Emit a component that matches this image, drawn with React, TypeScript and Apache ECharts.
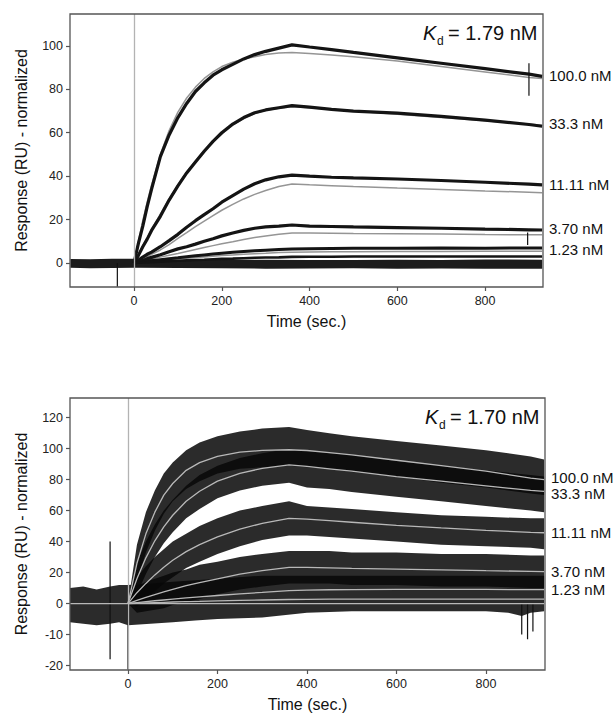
import React, { useEffect, useRef } from "react";
import * as echarts from "echarts";

// ---------- shared labels ----------
const concLabels = ["100.0 nM", "33.3 nM", "11.11 nM", "3.70 nM", "1.23 nM"];
const kdValues = ["1.79", "1.70"];
const xTickValues = [0, 200, 400, 600, 800];
const topYTickValues = [0, 20, 40, 60, 80, 100];
const bottomYTickValues = [-40, -20, 0, 20, 40, 60, 80, 100, 120];
const bottomYTickLabels = ["-20", "-10", "0", "20", "40", "60", "80", "100", "120"];

// ---------- top panel ----------
const topTimes = [0, 10, 20, 30, 40, 60, 80, 100, 120, 140, 160, 180, 200, 225, 250, 275, 300, 330, 360, 400, 450, 500, 600, 700, 800, 900, 930];
const top100Data = [0, 9, 17, 26, 34, 49, 59, 67, 73.5, 79, 83, 86.5, 89, 91.5, 94, 96, 97.5, 99, 100.5, 99.5, 98.3, 97, 94.5, 92, 89.5, 87, 86];
const top100Fit = [0, 10, 19.5, 28, 36, 50, 61, 69.5, 76, 81, 85, 88, 90.5, 92.5, 94, 95, 96, 96.7, 97, 96.5, 95.8, 95, 93, 90.5, 88, 85.5, 85];
const top33Data = [0, 3.5, 7.5, 11, 15, 21.5, 29, 35.5, 41.5, 46.5, 51.5, 56, 60, 64, 67, 69.2, 70.5, 71.5, 72.5, 71.8, 70.8, 70, 69, 67.5, 65.8, 63.8, 63];
const top33Fit = [0, 4, 8, 11.5, 15.5, 22.5, 29.5, 36, 42, 47, 52, 56, 59.5, 63.5, 66.5, 68.8, 70.3, 71.3, 72, 71.5, 70.8, 70, 68.5, 67, 65.5, 64, 63.5];
const top11Data = [0, 1.3, 2.7, 4, 5, 7.5, 10.3, 13.2, 16.5, 19.5, 22.3, 25, 28, 31, 34, 36.5, 38.3, 39.7, 40.5, 40, 39.5, 39.2, 38.7, 38, 37.2, 36.3, 36];
const top11Fit = [0, 1, 2, 3, 4, 6, 8.5, 11.3, 14, 16.8, 19.3, 21.8, 24.3, 27, 29.5, 31.6, 33.4, 35.2, 36.4, 36, 35.6, 35.2, 34.5, 33.9, 33.2, 32.6, 32.4];
const top3Data = [0, 0.5, 1.2, 2, 2.6, 3.8, 5.2, 6.5, 7.5, 8.7, 10, 11.2, 12.5, 13.8, 15, 16, 16.6, 17, 17.5, 17, 16.8, 16.6, 16.3, 16, 15.6, 15.3, 15.2];
const top3Fit = [0, 0.4, 0.9, 1.3, 1.8, 2.7, 3.6, 4.4, 5.3, 6.2, 7.1, 8, 8.9, 9.8, 10.8, 11.7, 12.4, 13.2, 13.8, 13.8, 13.7, 13.6, 13.5, 13.3, 13.1, 13, 13];
const top1Data = [0, 0.3, 0.5, 0.8, 1, 1.5, 2, 2.4, 2.9, 3.3, 3.7, 4.1, 4.5, 4.9, 5.3, 5.6, 5.9, 6.2, 6.5, 6.6, 6.7, 6.8, 6.8, 6.9, 6.8, 6.9, 6.9];
const top1Fit = [0, 0.2, 0.4, 0.6, 0.8, 1.1, 1.5, 1.8, 2.2, 2.5, 2.8, 3.1, 3.4, 3.7, 4, 4.3, 4.5, 4.8, 5, 5.1, 5.2, 5.2, 5.3, 5.3, 5.4, 5.4, 5.4];
const top04Data = [0, 0.1, 0.2, 0.3, 0.4, 0.6, 0.8, 1, 1.2, 1.4, 1.5, 1.7, 1.9, 2, 2.2, 2.4, 2.5, 2.6, 2.8, 2.9, 2.9, 3, 3, 3, 3, 3, 3];
const topBaseTimes = [-145, -100, -50, 0, 100, 200, 300, 400, 500, 600, 700, 800, 930];
const topBaseLow = [-2.2, -2.4, -2.3, -2.2, -2.3, -2.4, -2.6, -2.5, -2.4, -2.6, -2.5, -2.7, -2.6];
const topBaseHigh = [1.8, 1.7, 1.9, 1.9, 1.4, 1.5, 1.5, 1.4, 1.4, 1.5, 1.4, 1.6, 1.5];
// spikes: [time, from, to]
const topSpikes = [[-38, -11, 0], [900, 77, 92], [897, 8.3, 14]];

// ---------- bottom panel ----------
const bottomTimes = [0, 20, 40, 60, 80, 100, 130, 160, 200, 250, 300, 360, 400, 450, 500, 600, 700, 800, 900, 930];
const b100Fit = [0, 26, 45, 59, 70, 77.5, 86, 91, 95, 97.7, 98.9, 99.3, 98.8, 97.5, 96, 92.5, 89, 85.5, 81, 80];
const b100Low = [0, 14, 33, 47, 58, 66, 74, 79, 84, 87, 88, 89, 88, 87, 85, 82, 78, 75, 71, 70];
const b100High = [0, 38, 59, 73, 84, 91, 99, 104, 108, 111, 113, 114, 112, 110, 108, 105, 102, 99, 95, 93];
const b33Fit = [0, 16, 29.5, 40.5, 49.5, 57, 66, 72.5, 79, 84, 87.3, 89.5, 88.5, 87, 85.5, 82, 79, 76, 73, 72.4];
const b33Low = [0, 6, 19, 30, 39, 46, 55, 61, 68, 73, 76, 78, 75, 74, 72, 69, 66, 63, 60, 59];
const b33High = [0, 26, 40, 51, 60, 67, 76, 83, 89, 94, 97, 100, 99, 97, 96, 92, 89, 86, 83, 82];
const b11Fit = [0, 7, 13, 18.5, 23.5, 28, 33.5, 38, 43, 48, 51.8, 55, 54.5, 53.5, 52.5, 50.5, 48.8, 47.2, 46, 45.7];
const b11Low = [0, -2, 3, 8, 13, 17, 23, 27, 32, 37, 41, 44, 44, 43, 42, 40, 38, 37, 36, 35];
const b11High = [0, 17, 24, 30, 35, 40, 45, 50, 55, 60, 63, 66, 63, 62, 61, 59, 57, 56, 55, 55];
const b3Fit = [0, 2, 4, 5.8, 7.5, 9.2, 11.5, 13.5, 16, 19, 21.3, 23.3, 23.3, 23, 22.7, 22.2, 21.7, 21.2, 20.8, 20.6];
const b3Low = [0, -6, -5, -4, -3, -1, 1, 3, 6, 9, 11, 13, 13, 13, 12, 12, 11, 11, 10, 10];
const b3High = [0, 11, 14, 16, 18, 20, 22, 25, 27, 30, 32, 34, 34, 34, 33, 33, 32, 32, 31, 31];
const b1Fit = [0, 0.6, 1.2, 1.8, 2.3, 2.8, 3.6, 4.3, 5.2, 6.3, 7.2, 8.4, 8.7, 8.9, 9, 9.1, 9.1, 9.1, 9, 9];
const b04Fit = [0, 0.2, 0.4, 0.6, 0.8, 1, 1.2, 1.4, 1.7, 2, 2.3, 2.6, 2.7, 2.8, 2.8, 2.8, 2.8, 2.8, 2.8, 2.8];
const bZeroTimes = [-130, 930];
const bZeroFit = [0, 0];
const bClusterTimes = [-130, -100, -70, -40, -20, 0, 50, 100, 150, 200, 300, 400, 500, 600, 700, 800, 850, 880, 900, 930];
const bClusterLow = [-12, -13, -14, -13, -12, -14, -13, -12, -11, -10, -9, -6, -5, -5, -5, -5, -6, -8, -6, -5];
const bClusterHigh = [10, 11, 9, 11, 12, 12, 13, 14, 15, 16, 18, 18, 18, 18, 18, 18, 18, 18, 18, 18];
const bottomSpikes = [[-40, -36, 40], [0, -42.5, 0], [880, -20, 0], [893, -23, 0], [905, -18, 0]];

const FONT = "'Liberation Sans', Arial, Helvetica, sans-serif";

const zip = (t: number[], v: number[]) => t.map((x, i) => [x, v[i]]);

function lineS(t: number[], v: number[], gi: number, color: string, width: number, z: number, extra: any = {}) {
  return {
    type: "line",
    xAxisIndex: gi,
    yAxisIndex: gi,
    data: zip(t, v),
    symbol: "none",
    silent: true,
    z,
    lineStyle: { color, width },
    ...extra,
  };
}

function bandS(t: number[], lo: number[], hi: number[], gi: number, color: string, z: number) {
  return {
    type: "custom",
    xAxisIndex: gi,
    yAxisIndex: gi,
    silent: true,
    clip: true,
    z,
    data: [[t[0], lo[0]]],
    renderItem: (_p: any, api: any) => {
      const pts: number[][] = [];
      for (let i = 0; i < t.length; i++) pts.push(api.coord([t[i], hi[i]]));
      for (let i = t.length - 1; i >= 0; i--) pts.push(api.coord([t[i], lo[i]]));
      return { type: "polygon", shape: { points: pts }, style: { fill: color } };
    },
  };
}

function spikeS(s: number[], gi: number) {
  return lineS([s[0], s[0]], [s[1], s[2]], gi, "#111", 1.2, 4);
}

const vLine = {
  symbol: ["none", "none"],
  silent: true,
  label: { show: false },
  lineStyle: { color: "#b3b3b3", type: "solid", width: 1.3 },
  data: [{ xAxis: 0 }],
};

function xAxisCfg(gi: number, min: number, max: number) {
  return {
    type: "value",
    gridIndex: gi,
    min,
    max,
    name: "Time (sec.)",
    nameLocation: "middle",
    nameGap: 26,
    nameTextStyle: { fontFamily: FONT, fontSize: 16, color: "#111" },
    axisLine: { show: false, onZero: false },
    splitLine: { show: false },
    axisTick: { show: true, customValues: xTickValues, length: 4, inside: false, lineStyle: { color: "#555", width: 1.2 } },
    axisLabel: { customValues: xTickValues, margin: 7, fontFamily: FONT, fontSize: 12.5, color: "#222" },
  };
}

function yAxisCfg(gi: number, min: number, max: number, ticks: number[], fmt?: (v: number) => string) {
  return {
    type: "value",
    gridIndex: gi,
    min,
    max,
    name: "Response (RU) - normalized",
    nameLocation: "middle",
    nameGap: 41,
    nameTextStyle: { fontFamily: FONT, fontSize: 16, color: "#111" },
    axisLine: { show: false, onZero: false },
    splitLine: { show: false },
    axisTick: { show: true, customValues: ticks, length: 4, inside: false, lineStyle: { color: "#555", width: 1.2 } },
    axisLabel: { customValues: ticks, margin: 7, fontFamily: FONT, fontSize: 12.5, color: "#222", formatter: fmt },
  };
}

function labelText(text: string, x: number, y: number) {
  return {
    type: "text",
    left: x,
    top: y - 8,
    silent: true,
    style: { text, fontFamily: FONT, fontSize: 15, fill: "#111" },
  };
}

function kdGroup(val: string, x: number, y: number) {
  return [
    { type: "text", x, y, silent: true, style: { text: "K", fontFamily: FONT, fontSize: 20, fontStyle: "italic", fill: "#111", verticalAlign: "middle" } },
    { type: "text", x: x + 14, y: y + 8, silent: true, style: { text: "d", fontFamily: FONT, fontSize: 12, fill: "#111", verticalAlign: "middle" } },
    { type: "text", x: x + 25, y, silent: true, style: { text: "= " + val + " nM", fontFamily: FONT, fontSize: 20, fill: "#111", verticalAlign: "middle" } },
  ];
}

export default function App() {
  const ref = useRef<HTMLDivElement>(null);
  useEffect(() => {
    if (!ref.current) return;
    const chart = echarts.init(ref.current, null, { renderer: "svg" });
    const grayTop = "#959595";
    const grayBot = "#b8b8b8";
    const dark = "rgba(8,8,8,0.86)";
    const bottomFmt = (v: number) => {
      const i = bottomYTickValues.indexOf(v);
      return i >= 0 ? bottomYTickLabels[i] : "";
    };
    const series: any[] = [
      // top panel
      bandS(topBaseTimes, topBaseLow, topBaseHigh, 0, "#1c1c1c", 3),
      lineS(topTimes, top100Fit, 0, grayTop, 1.5, 2, { markLine: vLine }),
      lineS(topTimes, top33Fit, 0, grayTop, 1.5, 2),
      lineS(topTimes, top11Fit, 0, grayTop, 1.5, 2),
      lineS(topTimes, top3Fit, 0, grayTop, 1.5, 2),
      lineS(topTimes, top1Fit, 0, grayTop, 1.5, 2),
      lineS(topTimes, top100Data, 0, "#141414", 3.2, 3),
      lineS(topTimes, top33Data, 0, "#141414", 3.2, 3),
      lineS(topTimes, top11Data, 0, "#141414", 3.2, 3),
      lineS(topTimes, top3Data, 0, "#141414", 3.2, 3),
      lineS(topTimes, top1Data, 0, "#141414", 3, 3),
      lineS(topTimes, top04Data, 0, "#141414", 2.6, 3),
      ...topSpikes.map((s) => spikeS(s, 0)),
      // bottom panel
      bandS(bClusterTimes, bClusterLow, bClusterHigh, 1, dark, 1),
      bandS(bottomTimes, b3Low, b3High, 1, dark, 1),
      bandS(bottomTimes, b11Low, b11High, 1, dark, 1),
      bandS(bottomTimes, b33Low, b33High, 1, dark, 1),
      bandS(bottomTimes, b100Low, b100High, 1, dark, 1),
      ...bottomSpikes.map((s) => spikeS(s, 1)),
      lineS(bZeroTimes, bZeroFit, 1, grayBot, 1.3, 5, { markLine: vLine }),
      lineS(bottomTimes, b04Fit, 1, grayBot, 1.3, 5),
      lineS(bottomTimes, b1Fit, 1, grayBot, 1.3, 5),
      lineS(bottomTimes, b3Fit, 1, grayBot, 1.3, 5),
      lineS(bottomTimes, b11Fit, 1, grayBot, 1.3, 5),
      lineS(bottomTimes, b33Fit, 1, grayBot, 1.3, 5),
      lineS(bottomTimes, b100Fit, 1, grayBot, 1.3, 5),
    ];
    const topLabelY = [76, 124, 185, 229, 250];
    const botLabelY = [478, 494, 533, 572, 590];
    chart.setOption({
      animation: false,
      backgroundColor: "#fff",
      grid: [
        { left: 70, top: 14, width: 473, height: 273, show: true, borderColor: "#555", borderWidth: 1.3, backgroundColor: "transparent", z: 10 },
        { left: 70, top: 398, width: 475, height: 273, show: true, borderColor: "#555", borderWidth: 1.3, backgroundColor: "transparent", z: 10 },
      ],
      xAxis: [xAxisCfg(0, -145.9, 932), xAxisCfg(1, -129.6, 932)],
      yAxis: [
        yAxisCfg(0, -11.06, 114.7, topYTickValues),
        yAxisCfg(1, -42.9, 132.7, bottomYTickValues, bottomFmt),
      ],
      series,
      graphic: [
        ...concLabels.map((c, i) => labelText(c, 549, topLabelY[i])),
        ...concLabels.map((c, i) => labelText(c, 551, botLabelY[i])),
        ...kdGroup(kdValues[0], 423, 33),
        ...kdGroup(kdValues[1], 425, 417),
      ],
    });
    return () => chart.dispose();
  }, []);
  return <div ref={ref} style={{ position: "absolute", left: 0, top: 0, width: 614, height: 713 }} />;
}
